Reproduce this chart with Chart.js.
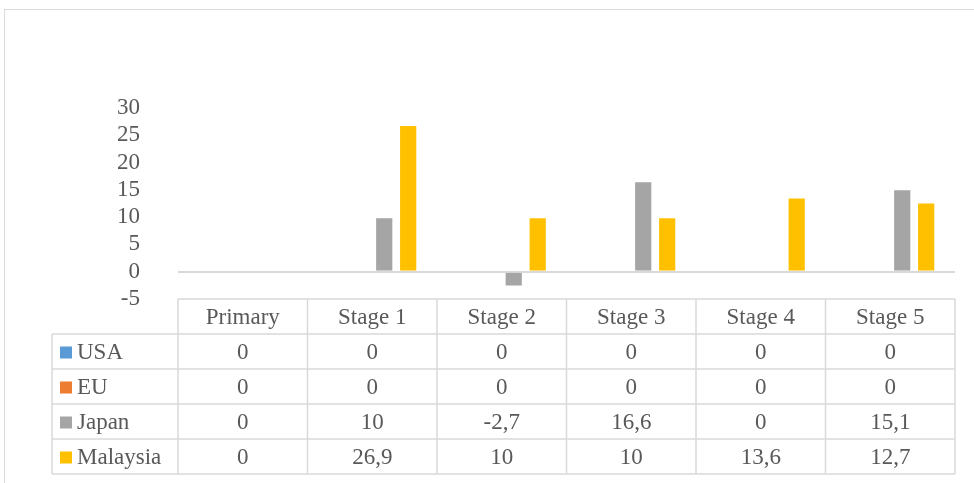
<!DOCTYPE html>
<html>
<head>
<meta charset="utf-8">
<script src="https://cdn.jsdelivr.net/npm/chart.js@4.4.1/dist/chart.umd.min.js"></script>
<style>
  html, body { margin: 0; padding: 0; background: #fff; }
  #wrap { width: 974px; height: 483px; position: relative; }
</style>
</head>
<body>
<div id="wrap"><canvas id="chart"></canvas></div>
<script>
// datos
const categories = ['Primary', 'Stage 1', 'Stage 2', 'Stage 3', 'Stage 4', 'Stage 5'];
const usa = [0, 0, 0, 0, 0, 0];
const eu = [0, 0, 0, 0, 0, 0];
const japan = [0, 10, -2.7, 16.6, 0, 15.1];
const malaysia = [0, 26.9, 10, 10, 13.6, 12.7];
const yTicks = [-5, 0, 5, 10, 15, 20, 25, 30];

const FONT = "'Liberation Serif', serif";
const FONT_SIZE = 23;
const TEXT = '#595959';
const LINE = '#d9d9d9';

const seriesList = [
    { label: 'USA', data: usa, color: '#5b9bd5' },
    { label: 'EU', data: eu, color: '#ed7d31' },
    { label: 'Japan', data: japan, color: '#a5a5a5' },
    { label: 'Malaysia', data: malaysia, color: '#ffc000' }
];

function fmt(v) {
    return String(v).replace('.', ',');
}

// marco exterior + tabla de datos debajo del grafico
const dataTablePlugin = {
    id: 'dataTable',
    beforeDraw(chart) {
        const ctx = chart.ctx;
        ctx.save();
        ctx.strokeStyle = LINE;
        ctx.lineWidth = 1;
        ctx.strokeRect(4.5, 9.5, 1000, 600);
        ctx.restore();
    },
    afterDraw(chart) {
        const ctx = chart.ctx;
        const area = chart.chartArea;
        const n = categories.length;
        const band = (area.right - area.left) / n;
        const top = area.bottom;
        const rowH = 35;
        const labelLeft = 52;
        const bottom = top + rowH * (seriesList.length + 1);

        ctx.save();
        ctx.strokeStyle = LINE;
        ctx.lineWidth = 1.5;
        ctx.beginPath();
        // lineas horizontales
        ctx.moveTo(area.left, top);
        ctx.lineTo(area.right, top);
        for (let r = 1; r <= seriesList.length + 1; r++) {
            const y = top + r * rowH;
            ctx.moveTo(labelLeft, y);
            ctx.lineTo(area.right, y);
        }
        // lineas verticales
        ctx.moveTo(labelLeft, top + rowH);
        ctx.lineTo(labelLeft, bottom);
        for (let i = 0; i <= n; i++) {
            const x = area.left + i * band;
            ctx.moveTo(x, top);
            ctx.lineTo(x, bottom);
        }
        ctx.stroke();

        ctx.fillStyle = TEXT;
        ctx.font = FONT_SIZE + 'px ' + FONT;
        ctx.textBaseline = 'middle';
        ctx.textAlign = 'center';
        const xs = chart.scales.x;
        categories.forEach((c, i) => {
            ctx.fillText(c, xs.getPixelForValue(i), top + rowH / 2 + 1);
        });
        seriesList.forEach((s, r) => {
            const y = top + (r + 1) * rowH + rowH / 2 + 1;
            ctx.fillStyle = s.color;
            ctx.fillRect(60, y - 6, 12, 12);
            ctx.fillStyle = TEXT;
            ctx.textAlign = 'left';
            ctx.fillText(s.label, 77, y);
            ctx.textAlign = 'center';
            s.data.forEach((v, i) => {
                ctx.fillText(fmt(v), xs.getPixelForValue(i), y);
            });
        });
        ctx.restore();
    }
};

function buildChart() {
    new Chart(document.getElementById('chart'), {
        type: 'bar',
        data: {
            labels: categories,
            datasets: seriesList.map(s => ({
                label: s.label,
                data: s.data,
                backgroundColor: s.color,
                borderColor: '#ffffff',
                borderWidth: 1,
                categoryPercentage: 0.74,
                barPercentage: 0.76
            }))
        },
        options: {
            responsive: true,
            maintainAspectRatio: false,
            animation: false,
            layout: { padding: { top: 108, right: 19, bottom: 184, left: 0 } },
            plugins: {
                legend: { display: false },
                tooltip: { enabled: false }
            },
            scales: {
                x: { display: false },
                y: {
                    min: -5,
                    max: 30,
                    afterFit: scale => { scale.width = 178; },
                    afterBuildTicks: scale => { scale.ticks = yTicks.map(v => ({ value: v })); },
                    border: { display: false },
                    grid: {
                        drawTicks: false,
                        lineWidth: 2,
                        color: c => (c.tick && c.tick.value === 0 ? LINE : 'rgba(0,0,0,0)')
                    },
                    ticks: {
                        autoSkip: false,
                        padding: 38,
                        color: TEXT,
                        font: { family: FONT, size: FONT_SIZE }
                    }
                }
            }
        },
        plugins: [dataTablePlugin]
    });
}

document.fonts.load(FONT_SIZE + "px 'Liberation Serif'").then(buildChart, buildChart);
</script>
</body>
</html>
